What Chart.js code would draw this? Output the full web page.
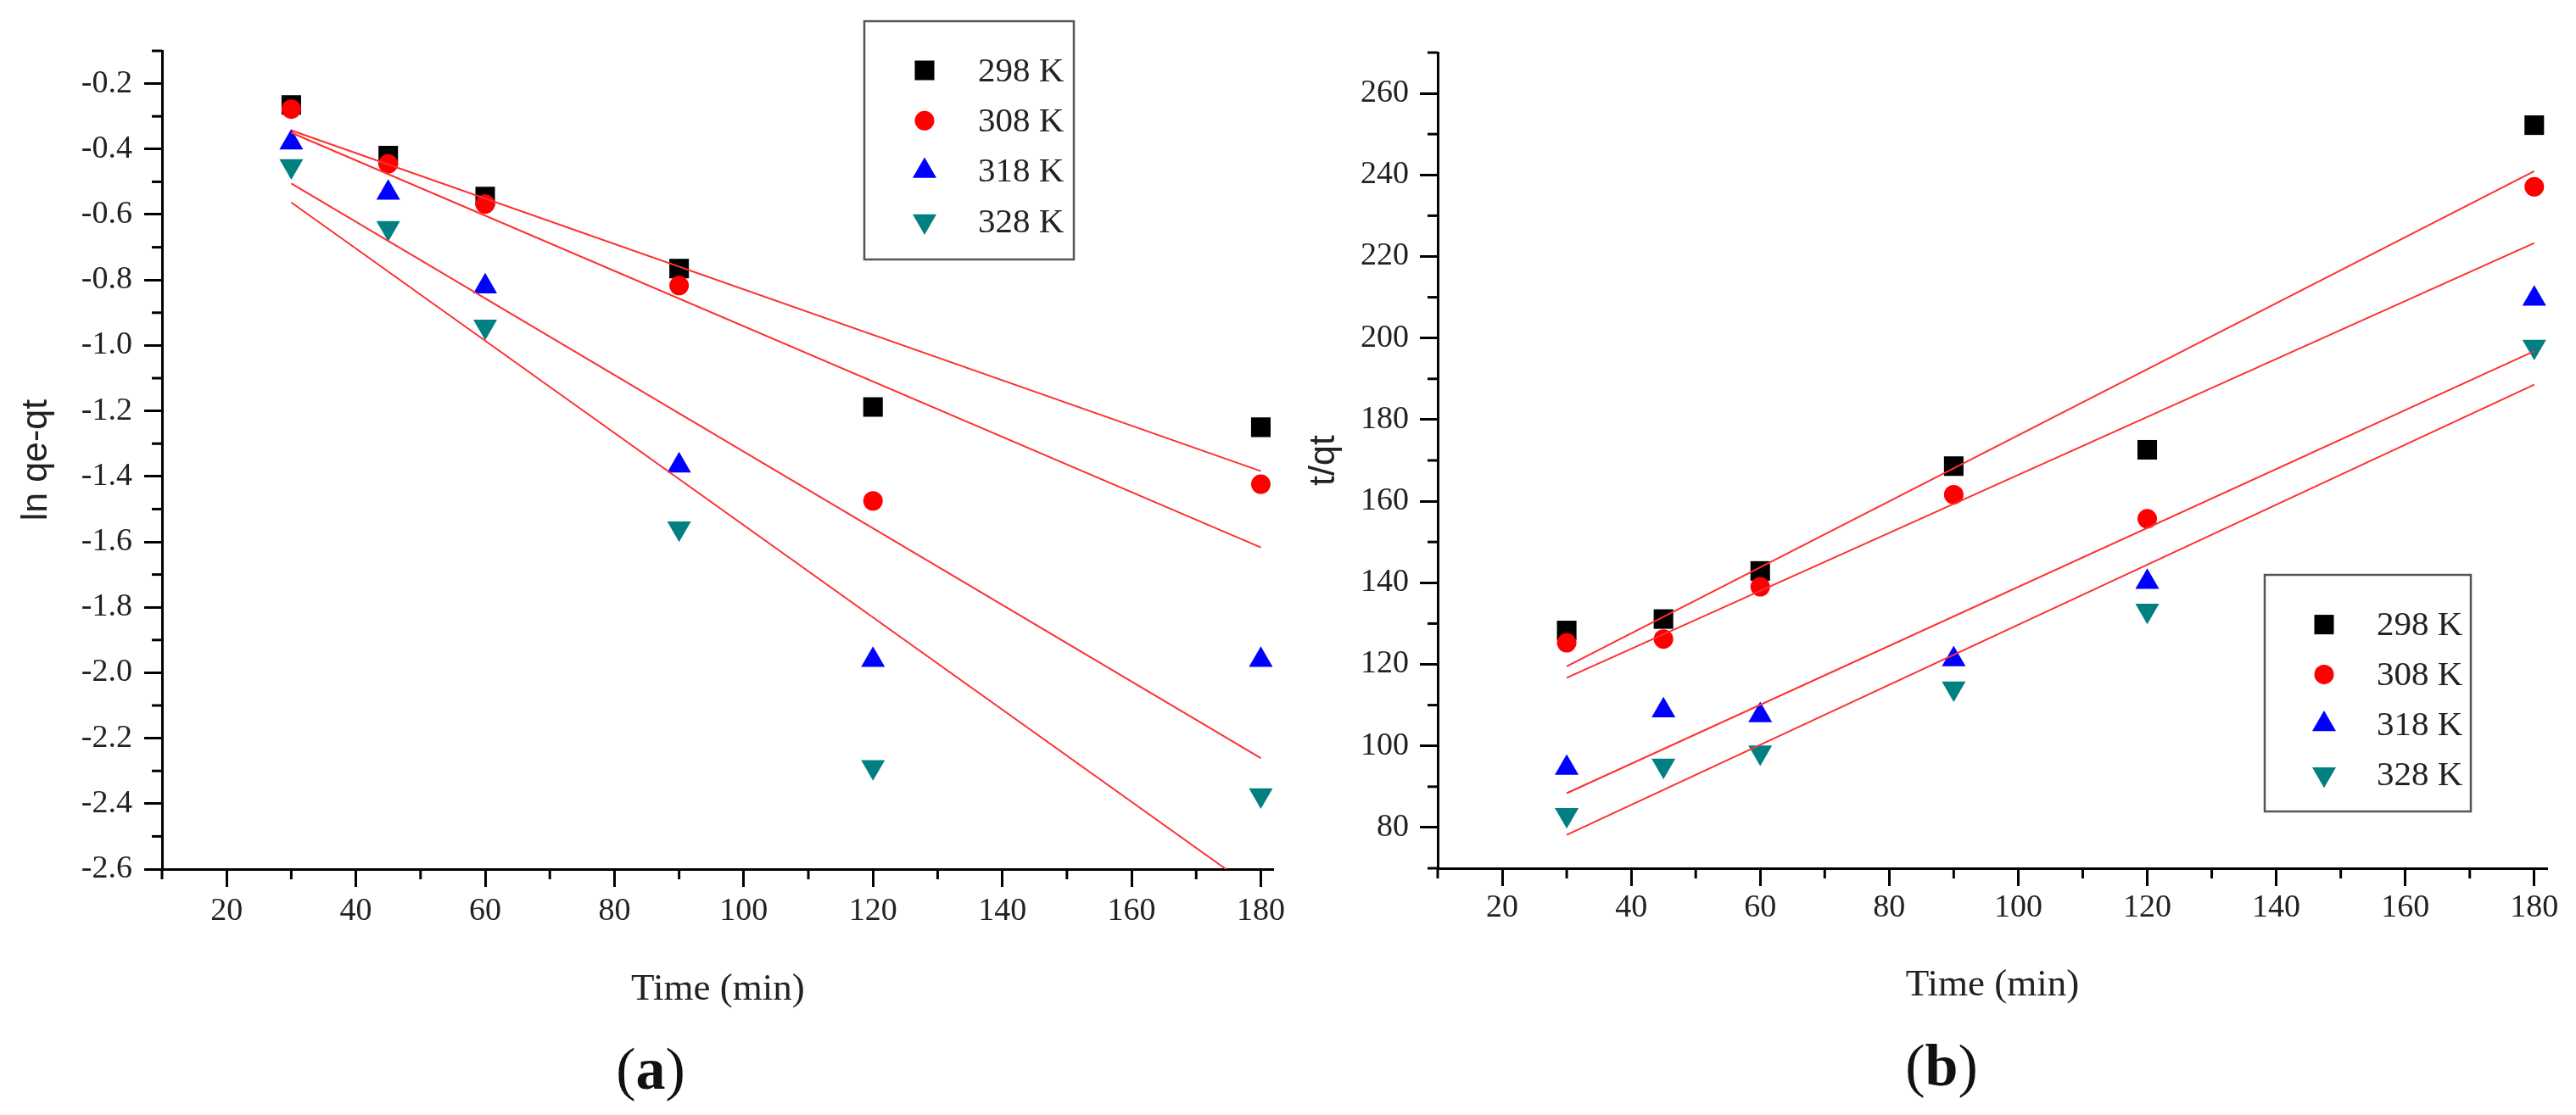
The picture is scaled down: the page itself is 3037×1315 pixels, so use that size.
<!DOCTYPE html>
<html><head><meta charset="utf-8">
<script src="https://cdn.jsdelivr.net/npm/chart.js@4.4.0/dist/chart.umd.min.js"></script>
<style>
html,body{margin:0;padding:0;background:#fff;width:3037px;height:1315px;overflow:hidden}
.panel{position:absolute;top:0;height:1315px}
#pa{left:0;width:1518px}
#pb{left:1518px;width:1519px}
</style></head><body>
<div class="panel" id="pa"><canvas id="ca"></canvas></div>
<div class="panel" id="pb"><canvas id="cb"></canvas></div>
<script>
// ---------- data ----------
const timeMin = [30, 45, 60, 90, 120, 180];
const seriesNames = ['298 K', '308 K', '318 K', '328 K'];

// (a) ln(qe-qt)
const lnA298 = [-0.265, -0.42, -0.545, -0.765, -1.188, -1.25];
const lnA308 = [-0.278, -0.445, -0.568, -0.817, -1.475, -1.424];
const lnA318 = [-0.38, -0.534, -0.82, -1.367, -1.961, -1.961];
const lnA328 = [-0.452, -0.641, -0.942, -1.559, -2.288, -2.374];
// (a) fitted lines (x ends and y ends)
const fitXA = [30, 180];
const fitXA328 = [30, 174.6];
const fitA298 = [-0.343, -1.384];
const fitA308 = [-0.35, -1.617];
const fitA318 = [-0.505, -2.261];
const fitA328 = [-0.563, -2.6];

// (b) t/qt
const tqB298 = [128.3, 131.1, 142.9, 168.6, 172.6, 252.2];
const tqB308 = [125.3, 126.2, 139.0, 161.6, 155.7, 237.1];
const tqB318 = [94.6, 108.7, 107.5, 121.2, 140.2, 209.6];
const tqB328 = [83.1, 95.2, 98.4, 114.1, 133.2, 197.9];
const fitXB = [30, 180];
const fitB298 = [119.5, 240.9];
const fitB308 = [116.7, 223.3];
const fitB318 = [88.4, 196.8];
const fitB328 = [78.2, 188.6];

// ticks
const xTickVals = [20, 40, 60, 80, 100, 120, 140, 160, 180];
const xMinorVals = [10, 30, 50, 70, 90, 110, 130, 150, 170];
const yTickValsA = [-2.6, -2.4, -2.2, -2.0, -1.8, -1.6, -1.4, -1.2, -1.0, -0.8, -0.6, -0.4, -0.2];
const yMinorValsA = [-2.5, -2.3, -2.1, -1.9, -1.7, -1.5, -1.3, -1.1, -0.9, -0.7, -0.5, -0.3, -0.1];
const yTickValsB = [80, 100, 120, 140, 160, 180, 200, 220, 240, 260];
const yMinorValsB = [70, 90, 110, 130, 150, 170, 190, 210, 230, 250, 270];

// ---------- styles ----------
const SERIF = "'Liberation Serif', 'Times New Roman', serif";
const SANS = "'Liberation Sans', Arial, sans-serif";
const TXT = '#222';
const STY = [
  {color: '#000000', style: 'rect', rot: 0, r: 16.3},
  {color: '#ff0000', style: 'circle', rot: 0, r: 11.5},
  {color: '#0000ff', style: 'triangle', rot: 0, r: 16.2},
  {color: '#008080', style: 'triangle', rot: 180, r: 16.2}
];
const FIT_COLOR = '#ff3030';

function pts(xs, ys) { return xs.map((x, k) => ({x: x, y: ys[k]})); }

function scatterSet(name, ys, i) {
  const s = STY[i];
  return {
    type: 'scatter', label: name, data: pts(timeMin, ys),
    pointStyle: s.style, pointRotation: s.rot, pointRadius: s.r,
    pointBackgroundColor: s.color, pointBorderColor: s.color, pointBorderWidth: 0,
    backgroundColor: s.color, borderColor: s.color,
    showLine: false, order: 4 - i, isMarker: true, styleIndex: i
  };
}
function fitSet(xs, ys) {
  return {
    type: 'scatter', label: '', data: pts(xs, ys), showLine: true,
    borderColor: FIT_COLOR, borderWidth: 2, pointRadius: 0, fill: false, order: 0
  };
}

function drawMarker(ctx, s, x, y) {
  ctx.save();
  ctx.fillStyle = s.color;
  if (Chart.helpers && Chart.helpers.drawPoint) {
    Chart.helpers.drawPoint(ctx, {pointStyle: s.style, rotation: s.rot, radius: s.r, borderWidth: 0}, x, y);
  } else {
    ctx.beginPath();
    if (s.style === 'circle') ctx.arc(x, y, s.r, 0, Math.PI * 2);
    else if (s.style === 'rect') { const h = s.r * Math.SQRT1_2; ctx.rect(x - h, y - h, 2 * h, 2 * h); }
    else {
      let a = s.rot * Math.PI / 180;
      for (let k = 0; k < 3; k++) {
        const px = x + Math.sin(a) * s.r, py = y - Math.cos(a) * s.r;
        k ? ctx.lineTo(px, py) : ctx.moveTo(px, py);
        a += 2 * Math.PI / 3;
      }
      ctx.closePath();
    }
    ctx.fill();
  }
  ctx.restore();
}

const decor = {
  id: 'decor',
  afterDraw(chart, args, o) {
    const ctx = chart.ctx, xs = chart.scales.x, ys = chart.scales.y;
    ctx.save();
    // minor ticks
    ctx.strokeStyle = '#000'; ctx.lineWidth = 3;
    o.minorX.forEach(v => {
      const px = xs.getPixelForValue(v);
      ctx.beginPath(); ctx.moveTo(px, ys.bottom); ctx.lineTo(px, ys.bottom + o.minorLen); ctx.stroke();
    });
    o.minorY.forEach(v => {
      const py = ys.getPixelForValue(v);
      ctx.beginPath(); ctx.moveTo(xs.left, py); ctx.lineTo(xs.left - o.minorLen, py); ctx.stroke();
    });
    // legend box
    const L = o.legend;
    ctx.strokeStyle = '#555'; ctx.lineWidth = 2.5;
    ctx.strokeRect(L.x, L.y, L.w, L.h);
    const markers = chart.data.datasets.filter(d => d.isMarker);
    ctx.font = '41px ' + SERIF; ctx.fillStyle = TXT; ctx.textBaseline = 'middle'; ctx.textAlign = 'left';
    markers.forEach((d, k) => {
      const yy = L.y + L.row0 + k * L.step;
      drawMarker(ctx, STY[d.styleIndex], L.x + L.mx, yy);
      ctx.fillStyle = TXT;
      ctx.fillText(d.label, L.x + L.tx, yy + 2);
    });
    // panel label "(a)" / "(b)" with bold letter
    const P = o.panel;
    const fR = '70px ' + SERIF, fB = 'bold 70px ' + SERIF;
    ctx.font = fR; const wp = ctx.measureText('(').width, wq = ctx.measureText(')').width;
    ctx.font = fB; const wl = ctx.measureText(P.letter).width;
    let cx = P.x - (wp + wl + wq) / 2;
    ctx.textAlign = 'left'; ctx.textBaseline = 'middle'; ctx.fillStyle = '#111';
    ctx.font = fR; ctx.fillText('(', cx, P.y); cx += wp;
    ctx.font = fB; ctx.fillText(P.letter, cx, P.y); cx += wl;
    ctx.font = fR; ctx.fillText(')', cx, P.y);
    ctx.restore();
  }
};

function makeChart(canvasId, cfg) {
  return new Chart(document.getElementById(canvasId), {
    type: 'scatter',
    data: {datasets: cfg.datasets},
    plugins: [decor],
    options: {
      responsive: true, maintainAspectRatio: false, animation: false, events: [],
      layout: {padding: cfg.pad},
      plugins: {legend: {display: false}, tooltip: {enabled: false}, title: {display: false}, decor: cfg.decor},
      scales: {
        x: {
          type: 'linear', position: 'bottom', min: 10, max: 182,
          afterBuildTicks: s => { s.ticks = xTickVals.map(v => ({value: v})); },
          afterFit: s => { s.height = cfg.xH; s.paddingLeft = 0; s.paddingRight = 0; },
          ticks: {autoSkip: false, maxRotation: 0, padding: cfg.xPad, color: TXT,
                  font: {family: SERIF, size: 38}, callback: v => String(v)},
          grid: {drawOnChartArea: false, drawTicks: true, tickLength: 21, tickWidth: 3, tickColor: '#000'},
          border: {display: true, color: '#000', width: 3},
          title: {display: true, text: 'Time (min)', color: TXT, font: {family: SERIF, size: 45}, padding: {top: 0, bottom: 0}}
        },
        y: {
          type: 'linear', position: 'left', min: cfg.yMin, max: cfg.yMax,
          afterBuildTicks: s => { s.ticks = cfg.yTicks.map(v => ({value: v})); },
          afterFit: s => { s.width = cfg.yW; s.paddingTop = 0; s.paddingBottom = 0; },
          ticks: {autoSkip: false, padding: cfg.yPad, color: TXT,
                  font: {family: SERIF, size: 38}, callback: cfg.yFmt},
          grid: {drawOnChartArea: false, drawTicks: true, tickLength: 21, tickWidth: 3, tickColor: '#000'},
          border: {display: true, color: '#000', width: 3},
          title: {display: true, text: cfg.yTitle, color: TXT, font: {family: SANS, size: 43}, padding: {top: 17, bottom: 0}}
        }
      }
    }
  });
}

makeChart('ca', {
  datasets: [
    fitSet(fitXA, fitA298), fitSet(fitXA, fitA308), fitSet(fitXA, fitA318), fitSet(fitXA328, fitA328),
    scatterSet(seriesNames[0], lnA298, 0), scatterSet(seriesNames[1], lnA308, 1),
    scatterSet(seriesNames[2], lnA318, 2), scatterSet(seriesNames[3], lnA328, 3)
  ],
  pad: {left: 0, top: 60, right: 15, bottom: 121},
  xH: 169, xPad: 6, yW: 191, yPad: 14,
  yMin: -2.6, yMax: -0.1, yTicks: yTickValsA, yFmt: v => Number(v).toFixed(1),
  yTitle: 'ln qe-qt',
  decor: {
    minorX: xMinorVals, minorY: yMinorValsA, minorLen: 12,
    legend: {x: 1019, y: 25, w: 247, h: 281, mx: 71, tx: 134, row0: 58, step: 59.3},
    panel: {letter: 'a', x: 767, y: 1266}
  }
});

makeChart('cb', {
  datasets: [
    fitSet(fitXB, fitB298), fitSet(fitXB, fitB308), fitSet(fitXB, fitB318), fitSet(fitXB, fitB328),
    scatterSet(seriesNames[0], tqB298, 0), scatterSet(seriesNames[1], tqB308, 1),
    scatterSet(seriesNames[2], tqB318, 2), scatterSet(seriesNames[3], tqB328, 3)
  ],
  pad: {left: 0, top: 62, right: 34, bottom: 126},
  xH: 165, xPad: 3, yW: 177, yPad: 13,
  yMin: 70, yMax: 270, yTicks: yTickValsB, yFmt: v => String(v),
  yTitle: 't/qt',
  decor: {
    minorX: xMinorVals, minorY: yMinorValsB, minorLen: 12,
    legend: {x: 1152, y: 678, w: 243, h: 279, mx: 70, tx: 132, row0: 58.6, step: 58.8},
    panel: {letter: 'b', x: 771, y: 1262}
  }
});
</script>
</body></html>
